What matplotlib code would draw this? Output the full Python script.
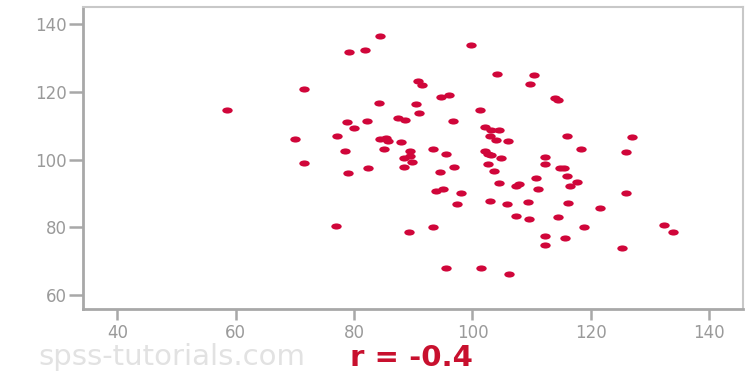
import matplotlib
matplotlib.use("Agg")
import matplotlib.pyplot as plt
import numpy as np
from matplotlib.path import Path

# values
x_vals = [84.4, 79.1, 81.8, 99.8, 104.1, 71.6, 90.8, 91.4, 94.7, 96.1,
          58.6, 84.2, 90.4, 91.0, 101.2, 78.8, 82.2, 79.9, 87.5, 88.6,
          96.7, 102.1, 103.2, 104.4, 70.0, 77.1, 84.4, 85.4, 85.8, 87.9,
          103.0, 103.9, 106.0, 78.4, 85.1, 89.4, 93.3, 95.6, 88.4, 89.5,
          89.7, 102.1, 102.6, 103.2, 104.8, 71.5, 88.4, 96.9, 102.6, 78.9,
          82.4, 94.5, 103.7, 104.4, 93.9, 95.1, 98.1, 97.4, 102.9, 76.9,
          89.2, 93.3, 95.6, 101.4, 110.4, 109.8, 113.9, 114.5, 115.9, 127.0,
          118.3, 126.0, 112.3, 112.3, 114.8, 115.5, 115.9, 110.7, 107.3, 107.9,
          111.1, 116.5, 117.6, 105.9, 109.4, 116.1, 126.0, 121.5, 107.4, 109.6,
          114.4, 118.9, 132.3, 133.9, 112.2, 115.7, 112.2, 125.3, 106.2]
y_vals = [136.5, 131.9, 132.4, 133.7, 125.4, 120.9, 123.2, 122.1, 118.4, 119.0,
          114.5, 116.7, 116.5, 113.8, 114.5, 111.1, 111.3, 109.4, 112.3, 111.7,
          111.3, 109.7, 108.8, 108.6, 106.0, 106.9, 106.1, 106.4, 105.4, 105.1,
          106.9, 105.7, 105.6, 102.6, 103.2, 102.5, 103.1, 101.6, 100.5, 101.0,
          99.2, 102.5, 101.6, 101.3, 100.5, 98.9, 97.7, 97.8, 98.8, 96.2,
          97.6, 96.4, 96.6, 93.2, 90.8, 91.3, 90.2, 87.0, 87.7, 80.3,
          78.7, 80.1, 68.1, 67.9, 124.9, 122.3, 118.2, 117.7, 107.0, 106.6,
          103.0, 102.4, 100.7, 98.7, 97.4, 97.5, 95.3, 94.6, 92.1, 92.8,
          91.3, 92.3, 93.4, 86.8, 87.6, 87.2, 90.3, 85.8, 83.5, 82.5,
          83.0, 80.2, 80.7, 78.7, 77.6, 76.9, 74.7, 74.0, 66.2]
x_ticks = [40, 60, 80, 100, 120, 140]
y_ticks = [60, 80, 100, 120, 140]
r_label = "r = -0.4"
watermark = "spss-tutorials.com"

dot_color = "#d0063a"
grey = "#a8a8a8"

# wide ellipse marker (the original image is stretched horizontally)
circ = Path.unit_circle()
ellipse = Path(circ.vertices * np.array([1.7, 1.0]), circ.codes)

fig = plt.figure(figsize=(7.55, 3.72), dpi=100)
ax = fig.add_axes([0.110, 0.169, 0.874, 0.811])

ax.plot(x_vals, y_vals, linestyle="none", marker=ellipse, markersize=7.5,
        color=dot_color, markeredgewidth=0)

ax.set_xlim(34.2, 145.7)
ax.set_ylim(55.9, 144.9)
ax.set_xticks(x_ticks)
ax.set_yticks(y_ticks)

for side in ["left", "bottom"]:
    ax.spines[side].set_color(grey)
    ax.spines[side].set_linewidth(2.0)
for side in ["top", "right"]:
    ax.spines[side].set_color("#c8c8c8")
    ax.spines[side].set_linewidth(1.5)

ax.tick_params(axis="x", length=8, width=1.8, color=grey, labelcolor="#9a9a9a",
               labelsize=12, pad=3)
ax.tick_params(axis="y", length=10, width=1.8, color=grey, labelcolor="#9a9a9a",
               labelsize=12, pad=2)

fig.text(305 / 755, 1 - 357 / 372, watermark, ha="right", va="center",
         fontsize=21, color="#e2e2e2")
fig.text(411 / 755, 1 - 358 / 372, r_label, ha="center", va="center",
         fontsize=21, fontweight="bold", color="#c8102e")

fig.savefig("out.png", dpi=100)
